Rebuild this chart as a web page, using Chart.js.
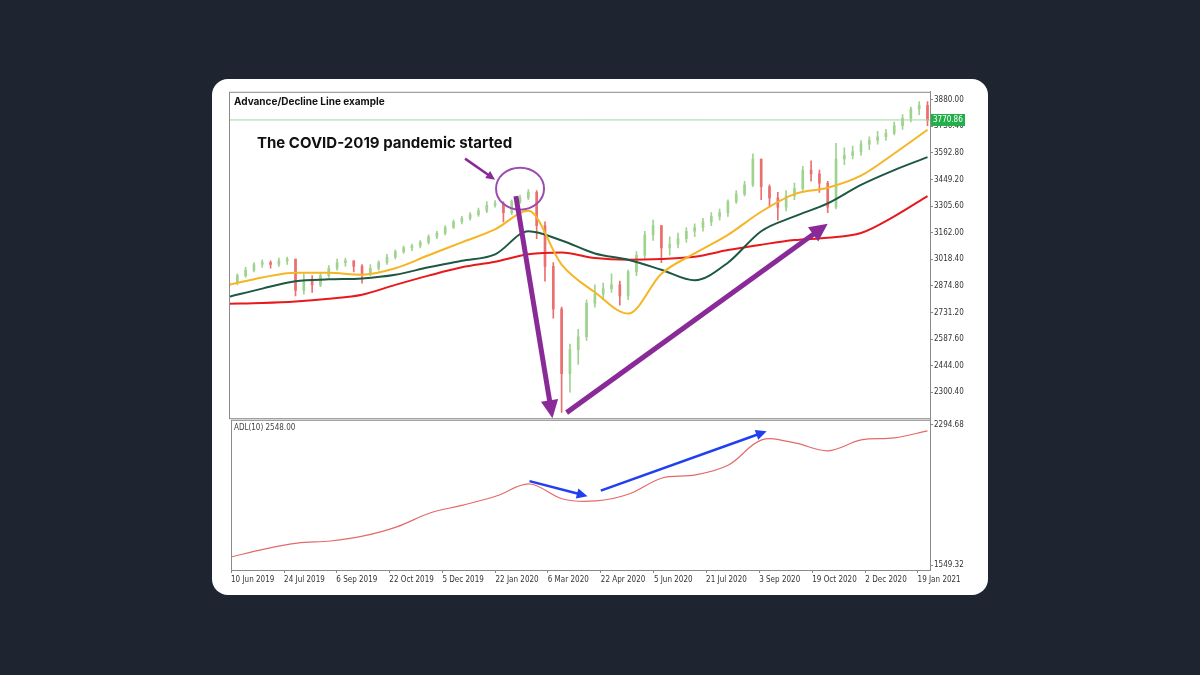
<!DOCTYPE html>
<html>
<head>
<meta charset="utf-8">
<script src="https://cdn.jsdelivr.net/npm/chart.js@4"></script>
<style>
  body { margin: 0; background: #1e2530; width: 1200px; height: 675px; overflow: hidden; }
  .card { position: absolute; left: 212px; top: 79px; width: 776px; height: 516px; background: #fff; border-radius: 16px; }
  .panel { position: absolute; left: 17px; width: 759px; }
  #top { top: 7px; height: 338px; }
  #bottom { top: 335px; height: 178px; }
</style>
</head>
<body>
<div class="card">
  <div class="panel" id="top"><canvas id="priceChart"></canvas></div>
  <div class="panel" id="bottom"><canvas id="adlChart"></canvas></div>
</div>
<script>
// weekly bars, x = week number from 10 Jun 2019
const closes = [2890,2930,2960,2990,3000,2990,3010,3020,2850,2900,2880,2930,2970,3000,3010,2980,2940,2970,3000,3030,
  3060,3080,3090,3110,3140,3160,3190,3220,3240,3260,3280,3310,3320,3270,3330,3350,3380,3200,2980,2750,
  2400,2530,2600,2780,2830,2860,2880,2820,2950,3040,3150,3200,3080,3100,3130,3170,3190,3220,3250,3270,
  3330,3370,3420,3560,3410,3350,3300,3360,3400,3500,3480,3430,3300,3560,3580,3600,3640,3660,3680,3700,
  3740,3780,3830,3850,3770];
const firstOpen = 2870;
const highs = [2905,2940,2975,3000,3015,3010,3025,3030,3020,2940,2930,2945,2985,3020,3025,3010,2990,2990,3010,3045,
  3070,3090,3100,3120,3150,3170,3200,3230,3250,3270,3295,3330,3335,3330,3340,3365,3395,3390,3220,3000,
  2760,2560,2640,2800,2880,2890,2940,2900,2960,3060,3170,3230,3200,3140,3160,3190,3210,3240,3270,3290,
  3340,3390,3440,3588,3560,3420,3380,3390,3430,3520,3550,3500,3440,3645,3620,3630,3660,3680,3710,3720,
  3760,3800,3840,3870,3870];
const lows = [2860,2880,2920,2950,2975,2970,2980,2990,2820,2830,2840,2870,2920,2960,2980,2950,2890,2930,2960,2990,
  3020,3050,3065,3080,3100,3130,3150,3185,3210,3230,3250,3270,3300,3220,3260,3320,3340,3130,2900,2700,
  2191,2300,2450,2580,2760,2800,2840,2770,2800,2930,3020,3120,3000,3040,3080,3110,3140,3170,3200,3230,
  3250,3320,3360,3410,3340,3300,3230,3280,3340,3390,3440,3380,3270,3290,3530,3560,3580,3610,3640,3660,
  3690,3720,3760,3800,3740];

// moving averages, sampled every 4 weeks
const maWeeks = [0,4,8,12,16,20,24,28,32,36,40,44,48,52,56,60,64,68,72,76,80,84];
const maFast = [2880,2920,2946,2945,2935,2970,3040,3110,3180,3280,2990,2840,2725,2940,3050,3150,3275,3370,3405,3470,3590,3718];
const maMid = [2816,2860,2900,2910,2915,2935,2975,3010,3045,3170,3120,3050,3016,2962,2905,3000,3170,3250,3320,3420,3500,3570];
const maSlow = [2778,2782,2790,2805,2827,2880,2930,2975,3005,3045,3055,3025,3016,3020,3032,3068,3097,3122,3135,3160,3250,3360];
const adl = [1592,1634,1666,1677,1704,1752,1826,1868,1916,1980,1900,1890,1927,2012,2028,2081,2214,2198,2156,2214,2225,2262];

const priceTicks = [3880,3736.4,3592.8,3449.2,3305.6,3162,3018.4,2874.8,2731.2,2587.6,2444,2300.4];
const adlTicks = [2294.68,1549.32];
const dateLabels = ['10 Jun 2019','24 Jul 2019','6 Sep 2019','22 Oct 2019','5 Dec 2019','22 Jan 2020','6 Mar 2020',
  '22 Apr 2020','5 Jun 2020','21 Jul 2020','3 Sep 2020','19 Oct 2020','2 Dec 2020','19 Jan 2021'];
const dateWeeks = [0,6.4,12.7,19.1,25.5,31.9,38.2,44.6,51,57.3,63.7,70.1,76.5,82.8];
const lastPrice = 3770.86;

const UP = '#9fd38f', DOWN = '#ec6f6f', PURPLE = '#8a2a98', BLUE = '#1f3ff0';
const tickFont = { family: 'DejaVu Sans Condensed', size: 8 };

const opens = closes.map((c, i) => i === 0 ? firstOpen : closes[i - 1]);
const barColor = closes.map((c, i) => c >= opens[i] ? UP : DOWN);
const pts = (ys) => maWeeks.map((w, i) => ({ x: w, y: ys[i] }));

function arrow(ctx, x1, y1, x2, y2, color, width, head) {
  const a = Math.atan2(y2 - y1, x2 - x1);
  ctx.save();
  ctx.strokeStyle = color; ctx.fillStyle = color; ctx.lineWidth = width;
  ctx.beginPath();
  ctx.moveTo(x1, y1);
  ctx.lineTo(x2 - Math.cos(a) * head * 0.8, y2 - Math.sin(a) * head * 0.8);
  ctx.stroke();
  ctx.beginPath();
  ctx.moveTo(x2, y2);
  ctx.lineTo(x2 - head * Math.cos(a - 0.45), y2 - head * Math.sin(a - 0.45));
  ctx.lineTo(x2 - head * Math.cos(a + 0.45), y2 - head * Math.sin(a + 0.45));
  ctx.closePath();
  ctx.fill();
  ctx.restore();
}

const frame = {
  id: 'frame',
  afterDraw(chart) {
    const { ctx, chartArea: a } = chart;
    ctx.save();
    ctx.strokeStyle = '#8a8a8a';
    ctx.lineWidth = 1;
    ctx.strokeRect(a.left + 0.5, a.top + 0.5, a.right - a.left, a.bottom - a.top);
    ctx.restore();
  }
};

const priceNotes = {
  id: 'priceNotes',
  afterDatasetsDraw(chart) {
    const { ctx, chartArea: a, scales: { x, y } } = chart;
    ctx.save();
    // last price line
    const ly = y.getPixelForValue(lastPrice);
    ctx.strokeStyle = '#9ad8a4';
    ctx.lineWidth = 1;
    ctx.beginPath(); ctx.moveTo(a.left, ly); ctx.lineTo(a.right, ly); ctx.stroke();
    ctx.fillStyle = '#22b04a';
    ctx.fillRect(a.right + 1, ly - 6, 34, 12);
    ctx.fillStyle = '#fff';
    ctx.font = '8px "DejaVu Sans Condensed"';
    ctx.textBaseline = 'middle';
    ctx.fillText(lastPrice.toFixed(2), a.right + 3, ly);
    // title
    ctx.fillStyle = '#111';
    ctx.font = 'bold 10px Inter';
    ctx.textBaseline = 'alphabetic';
    ctx.fillText('Advance/Decline Line example', a.left + 5, a.top + 13);
    ctx.font = 'bold 15px Inter';
    ctx.fillText('The COVID-2019 pandemic started', a.left + 28, a.top + 56);
    // circle on the top
    const cx = x.getPixelForValue(35), cy = y.getPixelForValue(3400);
    ctx.strokeStyle = '#9b4bb0'; ctx.lineWidth = 2;
    ctx.beginPath(); ctx.ellipse(cx, cy, 24, 21, 0, 0, Math.PI * 2); ctx.stroke();
    arrow(ctx, cx - 55, cy - 30, cx - 25, cy - 9, PURPLE, 2.5, 10);
    arrow(ctx, x.getPixelForValue(34.5), y.getPixelForValue(3360), x.getPixelForValue(38.9), y.getPixelForValue(2160), PURPLE, 5, 20);
    arrow(ctx, x.getPixelForValue(40.6), y.getPixelForValue(2190), x.getPixelForValue(72), y.getPixelForValue(3210), PURPLE, 5, 20);
    ctx.restore();
  }
};

const adlNotes = {
  id: 'adlNotes',
  afterDatasetsDraw(chart) {
    const { ctx, chartArea: a, scales: { x, y } } = chart;
    ctx.save();
    ctx.fillStyle = '#444';
    ctx.font = '8px "DejaVu Sans Condensed"';
    ctx.fillText('ADL(10) 2548.00', a.left + 3, a.top + 10);
    arrow(ctx, x.getPixelForValue(36), y.getPixelForValue(1995), x.getPixelForValue(43), y.getPixelForValue(1915), BLUE, 2.5, 12);
    arrow(ctx, x.getPixelForValue(44.6), y.getPixelForValue(1945), x.getPixelForValue(64.6), y.getPixelForValue(2260), BLUE, 2.5, 12);
    ctx.restore();
  }
};

const rightAxis = (min, max, ticks) => ({
  position: 'right', min, max,
  afterBuildTicks: s => { s.ticks = ticks.map(v => ({ value: v })); },
  afterFit: s => { s.width = 58; },
  grid: { drawOnChartArea: false, tickLength: 3, color: '#888' },
  border: { color: '#888' },
  ticks: { font: tickFont, color: '#333', padding: 1, callback: v => Number(v).toFixed(2) }
});

new Chart(document.getElementById('priceChart'), {
  type: 'bar',
  data: {
    datasets: [
      { type: 'line', data: pts(maFast), borderColor: '#f5b524', borderWidth: 2, pointRadius: 0, cubicInterpolationMode: 'monotone', order: 1 },
      { type: 'line', data: pts(maMid), borderColor: '#1d5844', borderWidth: 2, pointRadius: 0, cubicInterpolationMode: 'monotone', order: 1 },
      { type: 'line', data: pts(maSlow), borderColor: '#e8191c', borderWidth: 2, pointRadius: 0, cubicInterpolationMode: 'monotone', order: 1 },
      { data: closes.map((c, i) => ({ x: i, y: [lows[i], highs[i]] })), backgroundColor: barColor, barThickness: 1, grouped: false, order: 2 },
      { data: closes.map((c, i) => ({ x: i, y: [opens[i], c] })), backgroundColor: barColor, barThickness: 2, grouped: false, order: 2 }
    ]
  },
  options: {
    responsive: true, maintainAspectRatio: false, animation: false,
    layout: { padding: 0 },
    plugins: { legend: { display: false }, tooltip: { enabled: false } },
    scales: {
      x: { type: 'linear', offset: false, min: 0, max: 84.3, display: false },
      y: rightAxis(2160, 3923, priceTicks)
    }
  },
  plugins: [frame, priceNotes]
});

new Chart(document.getElementById('adlChart'), {
  type: 'line',
  data: {
    datasets: [{ data: pts(adl), borderColor: '#e46a6a', borderWidth: 1.2, pointRadius: 0, tension: 0.35 }]
  },
  options: {
    responsive: true, maintainAspectRatio: false, animation: false,
    layout: { padding: 0 },
    plugins: { legend: { display: false }, tooltip: { enabled: false } },
    scales: {
      x: {
        type: 'linear', offset: false, min: 0, max: 84.3,
        afterBuildTicks: s => { s.ticks = dateWeeks.map(v => ({ value: v })); },
        afterFit: s => { s.height = 22; },
        grid: { drawOnChartArea: false, tickLength: 3, color: '#888' },
        border: { color: '#888' },
        ticks: { font: tickFont, color: '#333', align: 'start', maxRotation: 0, autoSkip: false, padding: 2,
          callback: (v, i) => dateLabels[i] }
      },
      y: rightAxis(1523, 2321, adlTicks)
    }
  },
  plugins: [frame, adlNotes]
});
</script>
</body>
</html>
